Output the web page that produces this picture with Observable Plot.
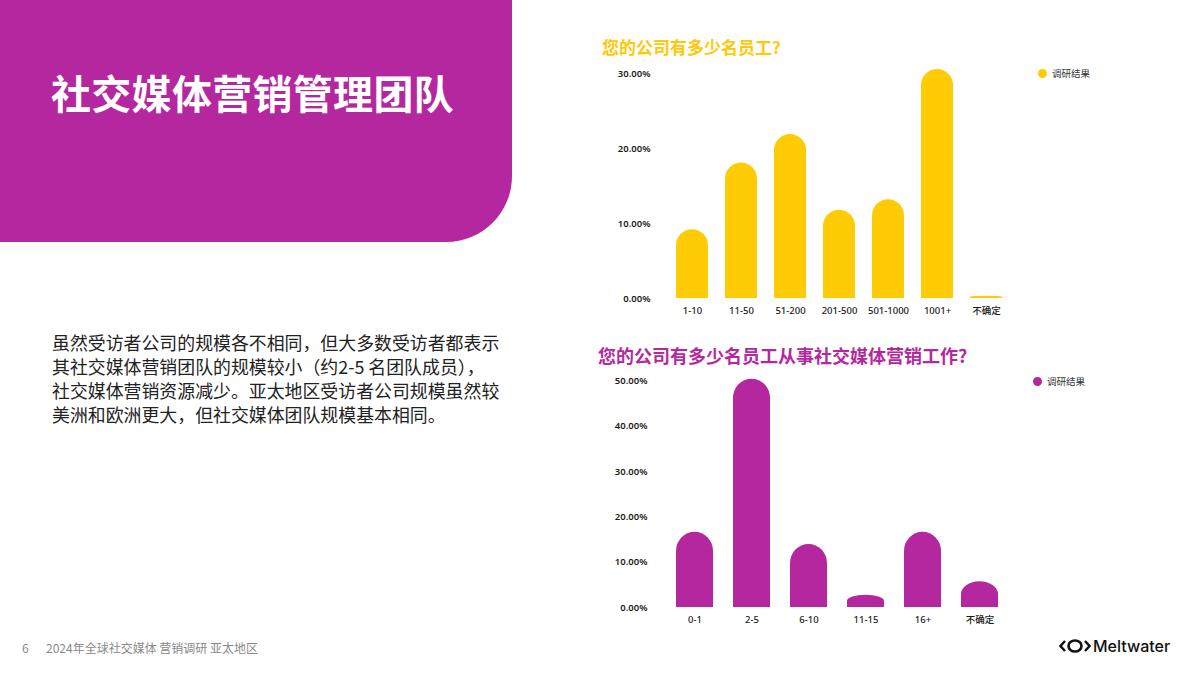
<!DOCTYPE html>
<html>
<head>
<meta charset="utf-8">
<script src="https://cdn.jsdelivr.net/npm/d3@7"></script>
<script src="https://cdn.jsdelivr.net/npm/@observablehq/plot@0.6"></script>
<style>
  html, body { margin: 0; padding: 0; background: #fff; }
  body { width: 1200px; height: 675px; position: relative; overflow: hidden;
         font-family: "Noto Sans CJK SC", "Noto Sans", sans-serif; }
  .panel { position: absolute; left: 0; top: 0; width: 512px; height: 242px;
           background: #B5279F; border-bottom-right-radius: 66px; }
  .panel h1 { position: absolute; left: 51px; top: 64px; margin: 0; color: #fff;
              font-size: 40px; font-weight: 700; letter-spacing: 0.3px; line-height: 56px; white-space: nowrap; }
  .para { position: absolute; left: 52px; top: 330px; margin: 0; color: #222;
          font-size: 17.9px; line-height: 24px; font-weight: 400; white-space: nowrap; }
  .ctitle { position: absolute; margin: 0; font-weight: 700; white-space: nowrap; }
  .legend { position: absolute; font-size: 9.5px; color: #333; display: flex; align-items: center; gap: 5px; white-space: nowrap; }
  .legend span.dot { width: 9px; height: 9px; border-radius: 50%; display: inline-block; }
  .chart { position: absolute; }
  .footer { position: absolute; top: 639px; font-size: 12px; color: #8a8a8a; white-space: nowrap; }
  .logo { position: absolute; left: 1059px; top: 636px; display: flex; align-items: center; gap: 2px;
          font-family: "Inter", "Noto Sans", sans-serif; font-size: 16px; font-weight: 500; color: #111; }
</style>
</head>
<body>
<div class="panel"><h1 id="pageTitle"></h1></div>
<p class="para" id="para"></p>

<div class="ctitle" id="title1" style="left:602px; top:34px; font-size:17px; color:#FFC805;"></div>
<div class="legend" id="legend1" style="left:1038px; top:66px;"></div>
<div class="chart" id="chart1" style="left:590px; top:60px;"></div>

<div class="ctitle" id="title2" style="left:598px; top:342px; font-size:18px; color:#B5279F;"></div>
<div class="legend" id="legend2" style="left:1033px; top:374px;"></div>
<div class="chart" id="chart2" style="left:580px; top:370px;"></div>

<div class="footer" style="left:22px;">6</div>
<div class="footer" id="footer" style="left:46px;"></div>
<div class="logo">
  <svg width="32" height="16" viewBox="0 0 32 16">
    <path d="M6 3 L1.5 8 L6 13" fill="none" stroke="#111" stroke-width="2.4"/>
    <path d="M26 3 L30.5 8 L26 13" fill="none" stroke="#111" stroke-width="2.4"/>
    <ellipse cx="16" cy="8" rx="6.5" ry="5.5" fill="none" stroke="#111" stroke-width="2.6"/>
  </svg>
  <span>Meltwater</span>
</div>

<script>
// ---------- data ----------
const pageTitle = "社交媒体营销管理团队";
const paragraphLines = [
  "虽然受访者公司的规模各不相同，但大多数受访者都表示",
  "其社交媒体营销团队的规模较小（约2-5 名团队成员），",
  "社交媒体营销资源减少。亚太地区受访者公司规模虽然较",
  "美洲和欧洲更大，但社交媒体团队规模基本相同。"
];
const footerText = "2024年全球社交媒体 营销调研 亚太地区";
const legendLabel = "调研结果";

const chart1Title = "您的公司有多少名员工?";
const sizeCategories = ["1-10", "11-50", "51-200", "201-500", "501-1000", "1001+", "不确定"];
const sizeValues = [9.2, 18.1, 21.9, 11.8, 13.2, 30.6, 0.3];
const sizeTicks = [0, 10, 20, 30];

const chart2Title = "您的公司有多少名员工从事社交媒体营销工作?";
const teamCategories = ["0-1", "2-5", "6-10", "11-15", "16+", "不确定"];
const teamValues = [16.6, 50.4, 13.9, 2.7, 16.6, 5.7];
const teamTicks = [0, 10, 20, 30, 40, 50];

const YELLOW = "#FFCB05";
const PURPLE = "#B5279F";

// ---------- text ----------
document.getElementById("pageTitle").textContent = pageTitle;
document.getElementById("para").innerHTML = paragraphLines.map(s => s.replace(/&/g,"&amp;").replace(/</g,"&lt;")).join("<br>");
document.getElementById("footer").textContent = footerText;
document.getElementById("title1").textContent = chart1Title;
document.getElementById("title2").textContent = chart2Title;
for (const [id, color] of [["legend1", YELLOW], ["legend2", PURPLE]]) {
  const el = document.getElementById(id);
  const dot = document.createElement("span"); dot.className = "dot"; dot.style.background = color;
  const t = document.createElement("span"); t.textContent = legendLabel;
  el.append(dot, t);
}

// ---------- charts ----------
function roundedBarChart({categories, values, ticks, color, width, height, marginLeft, marginTop, marginBottom, yMax, padding, radius}) {
  const data = categories.map((c, i) => ({category: c, value: values[i]}));
  return Plot.plot({
    width, height, marginLeft, marginRight: 0, marginTop, marginBottom,
    style: {fontFamily: "'Noto Sans', 'Noto Sans CJK SC', sans-serif", fontSize: "9.5px", color: "#1a1a1a", background: "transparent"},
    x: {domain: categories, padding, label: null},
    y: {domain: [0, yMax], label: null},
    marks: [
      Plot.barY(data, {x: "category", y: "value", fill: color, rx: radius}),
      Plot.barY(data, {x: "category", y1: 0, y2: d => d.value / 2, fill: color}),
      Plot.axisY({ticks, tickFormat: d => d.toFixed(2) + "%", tickSize: 0, tickPadding: 8, fontWeight: 600, label: null}),
      Plot.axisX({tickSize: 0, tickPadding: 9, fontWeight: 500, label: null})
    ]
  });
}

document.getElementById("chart1").append(roundedBarChart({
  categories: sizeCategories, values: sizeValues, ticks: sizeTicks, color: YELLOW,
  width: 430, height: 263, marginLeft: 68, marginTop: 6, marginBottom: 25,
  yMax: 31, padding: 0.35, radius: 16
}));

document.getElementById("chart2").append(roundedBarChart({
  categories: teamCategories, values: teamValues, ticks: teamTicks, color: PURPLE,
  width: 440, height: 262, marginLeft: 75, marginTop: 6, marginBottom: 25,
  yMax: 51, padding: 0.345, radius: 19
}));
</script>
</body>
</html>
